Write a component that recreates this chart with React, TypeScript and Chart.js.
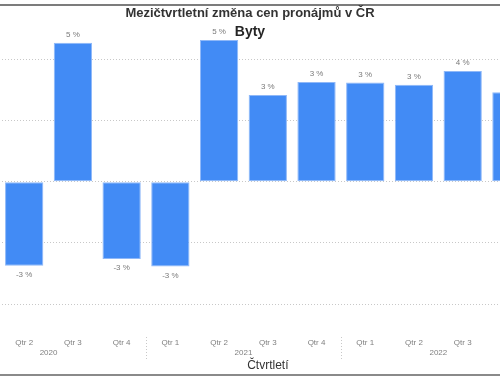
import React, { useEffect, useRef } from "react";
import { Chart, registerables } from "chart.js";

Chart.register(...registerables);

const chartTitle = "Mezičtvrtletní změna cen pronájmů v ČR";
const chartSubtitle = "Byty";
const xAxisTitle = "Čtvrtletí";

const quarterLabels = [
  "Qtr 1", "Qtr 2", "Qtr 3", "Qtr 4",
  "Qtr 1", "Qtr 2", "Qtr 3", "Qtr 4",
  "Qtr 1", "Qtr 2", "Qtr 3", "Qtr 4",
  "Qtr 1",
];
const quarterYears = [
  "2020", "2020", "2020", "2020",
  "2021", "2021", "2021", "2021",
  "2022", "2022", "2022", "2022",
  "2023",
];
// quarter-on-quarter change in % (first and last slots fall outside the visible crop)
const changeValues: (number | null)[] = [
  null, -2.75, 4.54, -2.53,
  -2.77, 4.63, 2.83, 3.26,
  3.24, 3.17, 3.62, 2.92,
  null,
];
const yGridTicks = [-4, -2, 0, 2, 4];
const yMin = -4;
const yMax = 5;

const FONT = "'Liberation Sans', Arial, sans-serif";

const labelsPlugin = {
  id: "pbiLabels",
  afterDatasetsDraw(chart: any) {
    const ctx = chart.ctx;
    const meta = chart.getDatasetMeta(0);
    ctx.save();
    ctx.font = `8px ${FONT}`;
    ctx.fillStyle = "#7a7a7a";
    ctx.textAlign = "center";
    ctx.textBaseline = "middle";
    meta.data.forEach((el: any, i: number) => {
      const v = changeValues[i];
      if (v === null || v === undefined) return;
      const txt = `${Math.round(v)} %`;
      const y = v >= 0 ? el.y - 8 : el.y + 9;
      ctx.fillText(txt, el.x, y);
    });
    ctx.restore();
  },
  afterDraw(chart: any) {
    const ctx = chart.ctx;
    const xs = chart.scales.x;
    ctx.save();
    // year group labels
    ctx.font = `8px ${FONT}`;
    ctx.fillStyle = "#808080";
    ctx.textAlign = "center";
    ctx.textBaseline = "middle";
    const groups: { year: string; first: number; last: number }[] = [];
    quarterYears.forEach((yr, i) => {
      const g = groups[groups.length - 1];
      if (g && g.year === yr) g.last = i;
      else groups.push({ year: yr, first: i, last: i });
    });
    groups.forEach((g) => {
      const x = (xs.getPixelForValue(g.first) + xs.getPixelForValue(g.last)) / 2;
      ctx.fillText(g.year, x, 353);
    });
    // dotted separators between years
    ctx.strokeStyle = "#c8c8c8";
    ctx.lineWidth = 1;
    ctx.setLineDash([1, 2]);
    groups.slice(1).forEach((g) => {
      const x = Math.round(xs.getPixelForValue(g.first - 0.5)) + 0.5;
      ctx.beginPath();
      ctx.moveTo(x, 337);
      ctx.lineTo(x, 359);
      ctx.stroke();
    });
    ctx.restore();
  },
};

export default function App() {
  const canvasRef = useRef<HTMLCanvasElement | null>(null);

  useEffect(() => {
    if (!canvasRef.current) return;
    const chart = new Chart(canvasRef.current, {
      type: "bar",
      data: {
        labels: quarterLabels,
        datasets: [
          {
            data: changeValues as any,
            backgroundColor: "#428bf5",
            borderColor: "#8fb8f8",
            borderWidth: 1,
            borderSkipped: false,
            barPercentage: 0.786,
            categoryPercentage: 1,
          },
        ],
      },
      options: {
        responsive: false,
        animation: false,
        layout: { padding: { left: 11.1, right: 15.5, top: 28.7, bottom: 0 } },
        plugins: {
          legend: { display: false },
          tooltip: { enabled: false },
          title: { display: false },
        },
        scales: {
          x: {
            grid: {
              display: true,
              drawOnChartArea: false,
              drawTicks: true,
              tickLength: 30,
              color: "rgba(0,0,0,0)",
            },
            border: { display: false },
            ticks: {
              color: "#808080",
              font: { family: FONT, size: 8 },
              padding: 4,
              maxRotation: 0,
              autoSkip: false,
            },
            title: {
              display: true,
              text: xAxisTitle,
              color: "#333333",
              font: { family: FONT, size: 12 },
              padding: { top: 0, bottom: 10 },
            },
            afterFit(scale: any) {
              scale.height = 78.9;
            },
          },
          y: {
            min: yMin,
            max: yMax,
            grid: {
              color: "#c8c8c8",
              drawTicks: false,
            },
            border: { display: false, dash: [1, 2] },
            ticks: { display: false },
            afterBuildTicks(scale: any) {
              scale.ticks = yGridTicks.map((v) => ({ value: v }));
            },
            afterFit(scale: any) {
              scale.width = 0;
            },
          },
        },
      },
      plugins: [labelsPlugin],
    });
    return () => chart.destroy();
  }, []);

  return (
    <div
      style={{
        position: "fixed",
        left: 0,
        top: 0,
        width: 500,
        height: 383,
        overflow: "hidden",
        background: "#ffffff",
      }}
    >
      <canvas
        ref={canvasRef}
        width={660}
        height={383}
        style={{ position: "absolute", left: -60, top: 0, display: "block" }}
      />
      <div
        style={{
          position: "absolute",
          left: 0,
          top: 4,
          width: 500,
          height: 2,
          background: "#7c7c7c",
        }}
      />
      <div
        style={{
          position: "absolute",
          left: 0,
          top: 374,
          width: 500,
          height: 2,
          background: "#8a8a8a",
        }}
      />
      <div
        style={{
          position: "absolute",
          left: 0,
          top: 5.7,
          width: 500,
          textAlign: "center",
          font: `bold 13px/13px ${FONT}`,
          color: "#333333",
          whiteSpace: "nowrap",
        }}
      >
        {chartTitle}
      </div>
      <div
        style={{
          position: "absolute",
          left: 0,
          top: 23.5,
          width: 500,
          textAlign: "center",
          font: `bold 14px/14px ${FONT}`,
          color: "#252525",
          whiteSpace: "nowrap",
        }}
      >
        {chartSubtitle}
      </div>
    </div>
  );
}
